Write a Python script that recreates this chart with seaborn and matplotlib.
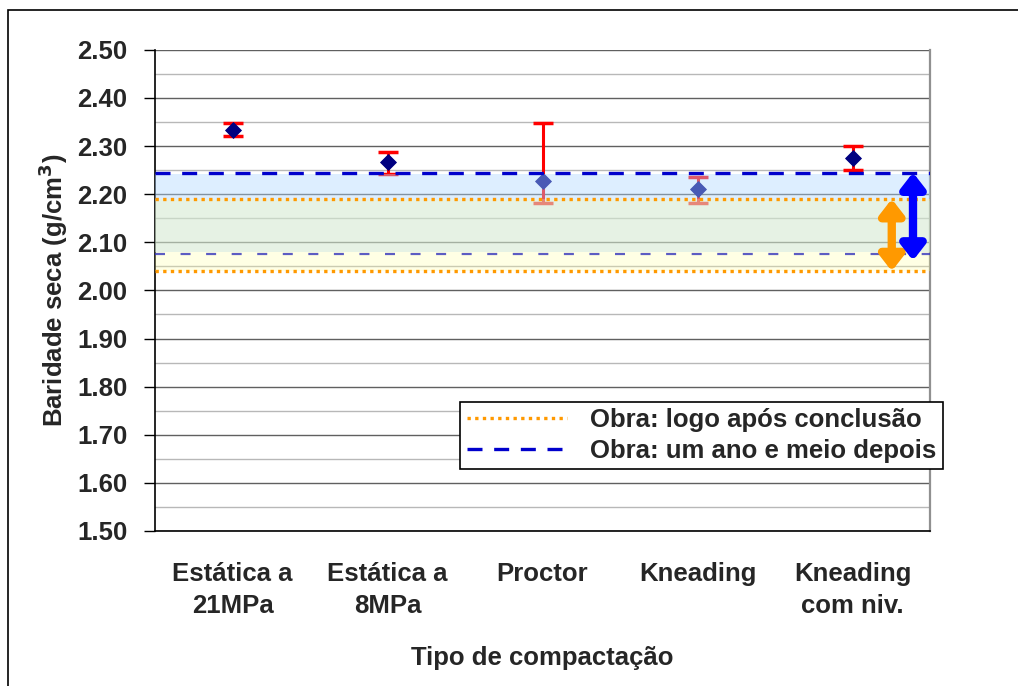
import matplotlib
matplotlib.use("Agg")
import matplotlib.pyplot as plt
import matplotlib.ticker as mticker
from matplotlib.patches import Rectangle
import numpy as np
import pandas as pd
import seaborn as sns

# valores
categorias = ["Estática a\n21MPa", "Estática a\n8MPa", "Proctor", "Kneading", "Kneading\ncom niv."]
baridade = [2.334, 2.266, 2.228, 2.211, 2.275]
erro_sup = [2.348, 2.287, 2.348, 2.235, 2.301]
erro_inf = [2.320, 2.243, 2.182, 2.181, 2.251]

obra_conclusao = [2.190, 2.040]   # pontilhado laranja
obra_ano_meio = [2.245, 2.076]    # tracejado azul
faixa_azul = [2.080, 2.243]
faixa_amarela = [2.040, 2.190]

sns.set_style("white")
plt.rcParams["font.family"] = ["Liberation Sans", "DejaVu Sans"]
plt.rcParams["font.weight"] = "bold"
FS = 18.5

df = pd.DataFrame({"cat": categorias, "y": baridade})
xpos = np.arange(len(categorias))

fig = plt.figure(figsize=(10.18, 6.86), dpi=100)
ax = fig.add_axes([0.1523, 0.226, 0.7613, 0.7013])

err = [np.array(baridade) - np.array(erro_inf), np.array(erro_sup) - np.array(baridade)]
ax.errorbar(xpos, baridade, yerr=err, fmt="none", ecolor="red", elinewidth=2.2,
            capsize=7, capthick=2.5, zorder=3)
sns.scatterplot(data=df, x="cat", y="y", marker="D", color="#000080", s=65,
                edgecolor="#000080", ax=ax, zorder=4, legend=False)

# faixas sobrepostas
ax.axhspan(faixa_azul[0], faixa_azul[1], color="#b0d8ff", alpha=0.42, lw=0, zorder=5)
ax.axhspan(faixa_amarela[0], faixa_amarela[1], color="#ffffa0", alpha=0.28, lw=0, zorder=5)

ax.axhline(obra_conclusao[0], color="#ff9900", lw=2.4, ls=(0, (1, 1.3)), zorder=6,
           label="Obra: logo após conclusão")
ax.axhline(obra_conclusao[1], color="#ff9900", lw=2.4, ls=(0, (1, 1.3)), zorder=6)
ax.axhline(obra_ano_meio[0], color="#0000cc", lw=2.4, ls=(0, (4.5, 3.5)), zorder=6,
           label="Obra: um ano e meio depois")
ax.axhline(obra_ano_meio[1], color="#3333bb", lw=1.6, ls=(0, (4.5, 7)), alpha=0.8, zorder=6)

# setas de amplitude
ax.annotate("", xy=(4.253, obra_conclusao[1]), xytext=(4.253, obra_conclusao[0]),
            arrowprops=dict(arrowstyle="<|-|>,head_length=0.9,head_width=0.7",
                            lw=6, color="#ff9900", shrinkA=0, shrinkB=0), zorder=7)
ax.annotate("", xy=(4.39, 2.062), xytext=(4.39, obra_ano_meio[0]),
            arrowprops=dict(arrowstyle="<|-|>,head_length=0.9,head_width=0.7",
                            lw=6, color="#0000ff", shrinkA=0, shrinkB=0), zorder=7)

ax.set_ylim(1.50, 2.50)
ax.set_xlim(-0.5, len(categorias) - 0.5)
ax.yaxis.set_major_locator(mticker.MultipleLocator(0.1))
ax.yaxis.set_minor_locator(mticker.MultipleLocator(0.05))
ax.yaxis.set_major_formatter(mticker.FormatStrFormatter("%.2f"))
ax.grid(which="major", axis="y", color="#606060", lw=1.0, zorder=0)
ax.grid(which="minor", axis="y", color="#b8b8b8", lw=1.0, zorder=0)
ax.set_axisbelow(True)

ax.set_xticks(np.arange(-0.5, len(categorias)), labels=[""] * (len(categorias) + 1))
ax.set_xticks(xpos, labels=categorias, minor=True)
ax.tick_params(axis="x", which="major", direction="inout", length=16, width=1, color="black")
ax.tick_params(axis="x", which="minor", length=0, pad=22, labelsize=FS)
ax.tick_params(axis="y", which="major", direction="out", length=8, width=1, color="black",
               labelsize=FS, left=True, pad=12)
ax.tick_params(axis="y", which="minor", length=0)
for lab in ax.get_xticklabels(minor=True):
    lab.set_fontweight("bold")
    lab.set_linespacing(1.45)
for lab in ax.get_yticklabels():
    lab.set_fontweight("bold")

for s in ["left", "bottom"]:
    ax.spines[s].set_color("black")
    ax.spines[s].set_linewidth(1.2)
ax.spines["top"].set_visible(False)
ax.spines["right"].set_color("#909090")
ax.spines["right"].set_linewidth(1.6)

ax.set_xlabel("Tipo de compactação", fontsize=FS, fontweight="bold", labelpad=20)
ax.set_ylabel("Baridade seca (g/cm$^\\mathbf{3}$)", fontsize=FS, fontweight="bold", labelpad=5)

leg = ax.legend(loc="upper left", bbox_to_anchor=(0.452, 0.414), bbox_transform=fig.transFigure,
                frameon=True, fancybox=False, framealpha=1, edgecolor="black",
                prop={"size": FS, "weight": "bold"}, handlelength=3.9, borderpad=0.25,
                labelspacing=0.25, handletextpad=0.9, borderaxespad=0)
leg.get_frame().set_linewidth(1.2)
leg.set_zorder(10)

fig.add_artist(Rectangle((0.0079, -0.1), 1.2, 1.0854, transform=fig.transFigure,
                         fill=False, edgecolor="black", lw=1.2, clip_on=False))

fig.savefig("out.png", dpi=100)
